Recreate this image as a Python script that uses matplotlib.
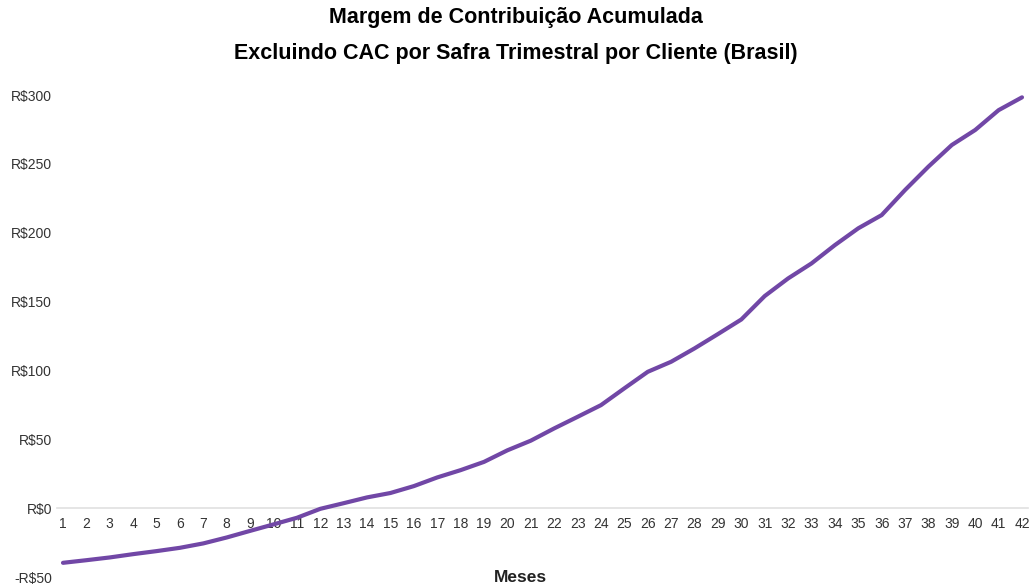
import matplotlib
matplotlib.use("Agg")
import matplotlib.pyplot as plt
from matplotlib.ticker import FuncFormatter, FixedLocator

plt.rcParams['font.family'] = ['Liberation Sans', 'DejaVu Sans']

# Data
meses = list(range(1, 43))
margem = [-39.7, -37.8, -35.8, -33.4, -31.2, -28.8, -25.6, -21.3, -16.5, -11.8,
          -7.0, -0.5, 3.6, 7.8, 11.0, 16.0, 22.3, 27.6, 33.6, 42.0,
          49.0, 57.9, 66.3, 74.8, 87.0, 99.0, 106.3, 116.0, 126.4, 137.0,
          154.0, 166.8, 177.7, 191.0, 203.2, 212.8, 231.0, 248.0, 263.7, 274.6,
          289.0, 298.3]
y_ticks = [-50, 0, 50, 100, 150, 200, 250, 300]
titulo1 = "Margem de Contribuição Acumulada"
titulo2 = "Excluindo CAC por Safra Trimestral por Cliente (Brasil)"
xlabel = "Meses"

W, H = 1032, 588
fig = plt.figure(figsize=(W / 100, H / 100), dpi=100)
left, right, top, bottom = 57, 1028, 95, 577
ax = fig.add_axes([left / W, 1 - bottom / H, (right - left) / W, (bottom - top) / H])

ax.plot(meses, margem, color="#7147a6", lw=3, solid_capstyle="round", solid_joinstyle="round", zorder=3)

step = 23.39
ax.set_xlim(1 - 6 / step, 42 + 6 / step)
ax.set_ylim(-50, 300)

for s in ["top", "right", "left"]:
    ax.spines[s].set_visible(False)
ax.spines["bottom"].set_position(("data", 0))
ax.spines["bottom"].set_color("#e0e0e0")
ax.spines["bottom"].set_linewidth(1.2)

ax.xaxis.set_major_locator(FixedLocator(meses))
ax.set_xticklabels([str(m) for m in meses])
ax.yaxis.set_major_locator(FixedLocator(y_ticks))

def fmt(v, pos):
    v = int(round(v))
    return f"-R${abs(v)}" if v < 0 else f"R${v}"

ax.yaxis.set_major_formatter(FuncFormatter(fmt))
ax.tick_params(axis="x", length=0, pad=6.5, labelsize=10, labelcolor="#333333")
ax.tick_params(axis="y", length=0, pad=3.5, labelsize=10, labelcolor="#333333")

fig.text(0.5, 1 - 17 / H, titulo1, ha="center", va="center", fontsize=15.5, fontweight="bold", color="#000000")
fig.text(0.5, 1 - 53 / H, titulo2, ha="center", va="center", fontsize=15.5, fontweight="bold", color="#000000")
fig.text(520 / W, 1 - 577 / H, xlabel, ha="center", va="center", fontsize=12.5, fontweight="bold", color="#222222")

fig.savefig("out.png", dpi=100)
